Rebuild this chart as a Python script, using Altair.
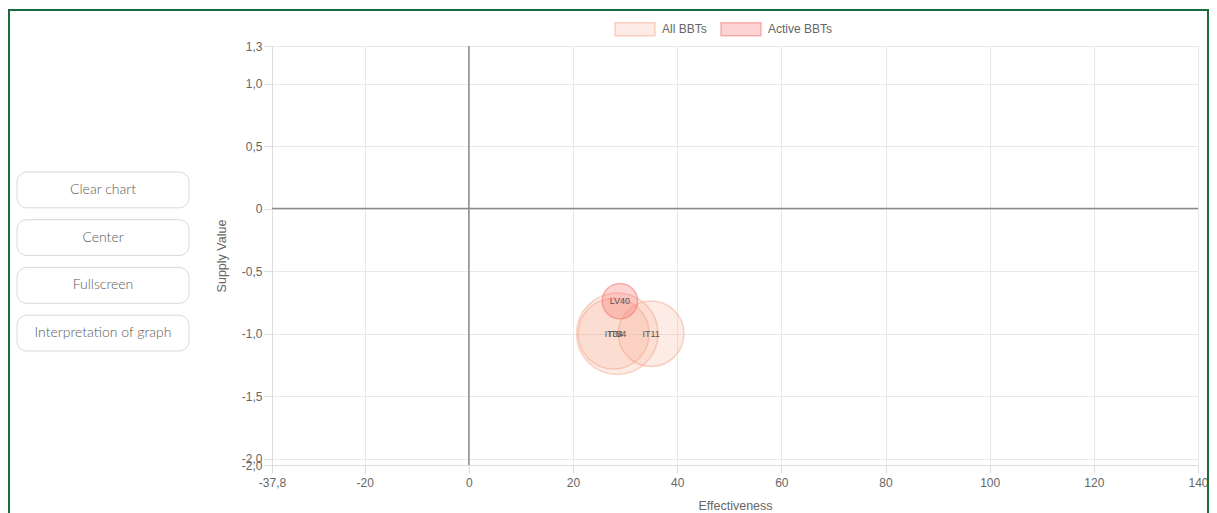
import math
import altair as alt
import pandas as pd

# ---------------- data ----------------
bbt_labels = ["IT54", "IT34", "IT11", "LV40"]
effectiveness = [28.5, 27.8, 35.0, 29.0]
supply_value = [-1.0, -1.0, -1.0, -0.74]
bubble_radius = [46, 40, 37, 20]
bbt_group = ["All BBTs", "All BBTs", "All BBTs", "Active BBTs"]

groups = ["All BBTs", "Active BBTs"]
group_fill = ["rgba(244,170,140,0.22)", "rgba(250,110,110,0.30)"]
group_stroke = ["rgba(240,160,130,0.45)", "rgba(240,100,100,0.45)"]

x_domain = [-37.8, 140]
y_domain = [-2.05, 1.3]
x_ticks = [-37.8, -20, 0, 20, 40, 60, 80, 100, 120, 140]
y_ticks = [1.3, 1.0, 0.5, 0, -0.5, -1.0, -1.5, -2.0, -2.05]
zero_line = [0]

buttons = ["Clear chart", "Center", "Fullscreen", "Interpretation of graph"]

FONT = "Liberation Sans"

df = pd.DataFrame({
    "label": bbt_labels,
    "effectiveness": effectiveness,
    "supply": supply_value,
    "r": bubble_radius,
    "group": bbt_group,
})
df["area"] = [math.pi * r * r for r in df["r"]]

x_enc = alt.X(
    "effectiveness:Q",
    scale=alt.Scale(domain=x_domain, nice=False, zero=False),
    axis=alt.Axis(
        values=x_ticks,
        title="Effectiveness",
        labelExpr="replace(replace(format(datum.value, '~f'), '.', ','), '\u2212', '-')",
        labelOverlap=False,
        labelFlush=False,
        titlePadding=11,
        labelPadding=4,
    ),
)
y_enc = alt.Y(
    "supply:Q",
    scale=alt.Scale(domain=y_domain, nice=False, zero=False),
    axis=alt.Axis(
        values=y_ticks,
        title="Supply Value",
        labelExpr="datum.value == 0 ? '0' : replace(replace(format(datum.value, '.1f'), '.', ','), '\u2212', '-')",
        labelOverlap=False,
        labelFlush=False,
        titlePadding=13,
        labelPadding=2,
    ),
)

legend_kw = dict(
    orient="none",
    legendX=597,
    legendY=-38,
    direction="horizontal",
    title=None,
    symbolType="M-1,-0.325H1V0.325H-1Z",
    symbolSize=1600,
    symbolStrokeWidth=1.5,
    labelFont=FONT,
    labelFontSize=12,
    labelColor="#666",
    labelOffset=6,
    columnPadding=11,
    padding=0,
)

base = alt.Chart(df)

bubbles = base.mark_circle(opacity=1, strokeWidth=1.5).encode(
    x=x_enc,
    y=y_enc,
    size=alt.Size("area:Q", scale=None, legend=None),
    fill=alt.Fill("group:N", scale=alt.Scale(domain=groups, range=group_fill),
                  legend=alt.Legend(**legend_kw)),
    stroke=alt.Stroke("group:N", scale=alt.Scale(domain=groups, range=group_stroke),
                      legend=alt.Legend(**legend_kw)),
)

labels = base.mark_text(font=FONT, fontSize=9, color="#555").encode(
    x="effectiveness:Q", y="supply:Q", text="label:N"
)

zdf = pd.DataFrame({"z": zero_line})
vrule = alt.Chart(zdf).mark_rule(color="#8a8a8a", strokeWidth=1.5).encode(x="z:Q")
hrule = alt.Chart(zdf).mark_rule(color="#8a8a8a", strokeWidth=1.5).encode(y="z:Q")

border = alt.Chart(zdf).mark_rect(filled=False, stroke="#1b6b3d", strokeWidth=2).encode(
    x=alt.value(-263), x2=alt.value(936), y=alt.value(-36), y2=alt.value(480)
)

main = alt.layer(border, vrule, hrule, bubbles, labels).properties(width=926, height=419)

# ---------------- buttons panel ----------------
bdf = pd.DataFrame({"button": buttons})
bbase = alt.Chart(bdf).transform_calculate(x0="0", x1="1", xm="0.5")
yb = alt.Y("button:N", sort=buttons, axis=None,
           scale=alt.Scale(range=[126, 305], paddingInner=0.25, paddingOuter=0))
bars = bbase.mark_bar(cornerRadius=10, fill="white", stroke="#d9d9d9", strokeWidth=1).encode(
    x=alt.X("x0:Q", scale=alt.Scale(domain=[0, 1]), axis=None),
    x2="x1:Q",
    y=yb,
)
btxt = bbase.mark_text(font="Lato", fontSize=14, fontWeight=300, color="#5a5a5a").encode(
    x="xm:Q", y=yb, text="button:N"
)
panel = alt.layer(bars, btxt).properties(width=172, height=419)

chart = alt.hconcat(panel, main, spacing=83, bounds="flush").properties(padding=0).configure_view(
    strokeWidth=0
).configure_axis(
    gridColor="#e8e8e8",
    domainColor="#dcdcdc",
    tickColor="#dcdcdc",
    tickSize=8,
    labelFont=FONT,
    labelFontSize=12,
    labelColor="#666",
    titleFont=FONT,
    titleFontSize=12.5,
    titleFontWeight="normal",
    titleColor="#666",
)

chart.save("out.html", embed_options={"renderer": "svg", "actions": False})
